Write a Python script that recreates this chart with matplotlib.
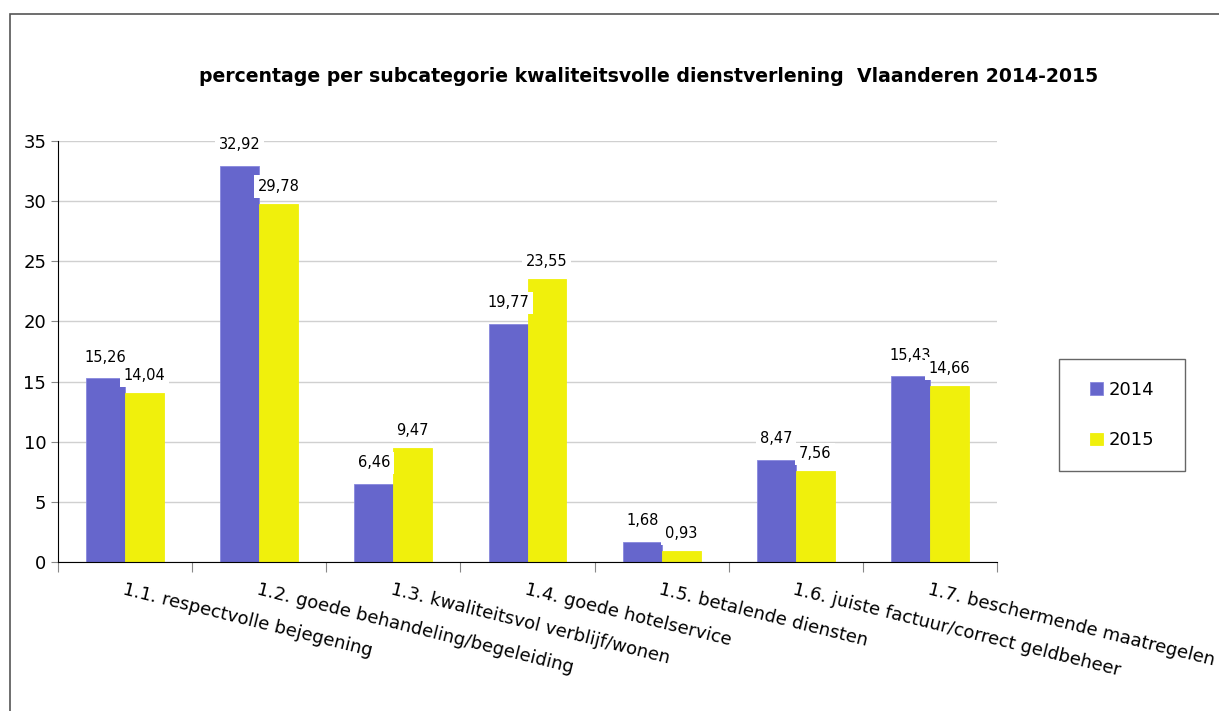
import numpy as np
import matplotlib
matplotlib.use("Agg")
import matplotlib.pyplot as plt
from matplotlib.patches import Rectangle

categories = ["1.1. respectvolle bejegening",
              "1.2. goede behandeling/begeleiding",
              "1.3. kwaliteitsvol verblijf/wonen",
              "1.4. goede hotelservice",
              "1.5. betalende diensten",
              "1.6. juiste factuur/correct geldbeheer",
              "1.7. beschermende maatregelen"]
values_2014 = [15.26, 32.92, 6.46, 19.77, 1.68, 8.47, 15.43]
values_2015 = [14.04, 29.78, 9.47, 23.55, 0.93, 7.56, 14.66]
years = ["2014", "2015"]

blue = "#6666cc"
yellow = "#f0f00c"

plt.rcParams['font.family'] = ['DejaVu Sans']

fig = plt.figure(figsize=(12.19, 7.11), dpi=100)
ax = fig.add_axes([58 / 1219, 1 - 562 / 711, (997 - 58) / 1219, (562 - 141) / 711])

# outer chart frame
fig.patches.append(Rectangle((10 / 1219, -0.1), 1.2, 1 - 14 / 711 + 0.1,
                             transform=fig.transFigure, fill=False,
                             edgecolor="#555555", linewidth=1.2))

x = np.arange(len(categories))
w = 0.29
b1 = ax.bar(x - w / 2, values_2014, w, color=blue, edgecolor="#8888dd", linewidth=0.6, label=years[0])
b2 = ax.bar(x + w / 2, values_2015, w, color=yellow, edgecolor=yellow, linewidth=0.6, label=years[1])

def fmt(v):
    return ("%.2f" % v).replace(".", ",")

for bars, vals, off in [(b1, values_2014, 10), (b2, values_2015, 7)]:
    for r, v in zip(bars, vals):
        ax.annotate(fmt(v), (r.get_x() + r.get_width() / 2, v),
                    xytext=(0, off), textcoords="offset points",
                    ha="center", va="bottom", fontsize=10.5,
                    bbox=dict(boxstyle="square,pad=0.25", fc="white", ec="none"))

ax.set_xlim(-0.5, len(categories) - 0.5)
ax.set_ylim(0, 35)
ax.set_yticks(np.arange(0, 36, 5))
ax.tick_params(axis="y", labelsize=13, colors="#888888", labelcolor="black", length=5)
ax.yaxis.grid(True, color="#d0d0d0", linewidth=1)
ax.set_axisbelow(True)

ax.set_xticks(np.arange(len(categories) + 1) - 0.5)
ax.set_xticklabels([])
ax.tick_params(axis="x", which="major", length=7, colors="#888888")
ax.set_xticks(x, minor=True)
ax.set_xticklabels(categories, minor=True, rotation=-14, ha="left",
                   rotation_mode="anchor", fontsize=13)
ax.tick_params(axis="x", which="minor", length=0, pad=13)

for s in ["top", "right"]:
    ax.spines[s].set_visible(False)
ax.spines["left"].set_color("black")
ax.spines["bottom"].set_color("black")

fig.text(649 / 1219, 1 - 76 / 711, "percentage per subcategorie kwaliteitsvolle dienstverlening  Vlaanderen 2014-2015",
         ha="center", va="center", fontsize=13.6, fontweight="bold")

# legend box
fig.patches.append(Rectangle((1059 / 1219, 1 - 471 / 711), 126 / 1219, 112 / 711,
                             transform=fig.transFigure, fill=False,
                             edgecolor="#666666", linewidth=1))
leg = fig.legend(handles=[b1, b2], labels=years, loc="center",
                 bbox_to_anchor=(1122 / 1219, 1 - 415 / 711),
                 fontsize=13, frameon=False,
                 handlelength=0.7, handleheight=0.7, handletextpad=0.3,
                 labelspacing=1.8)

fig.savefig("out.png", dpi=100)
